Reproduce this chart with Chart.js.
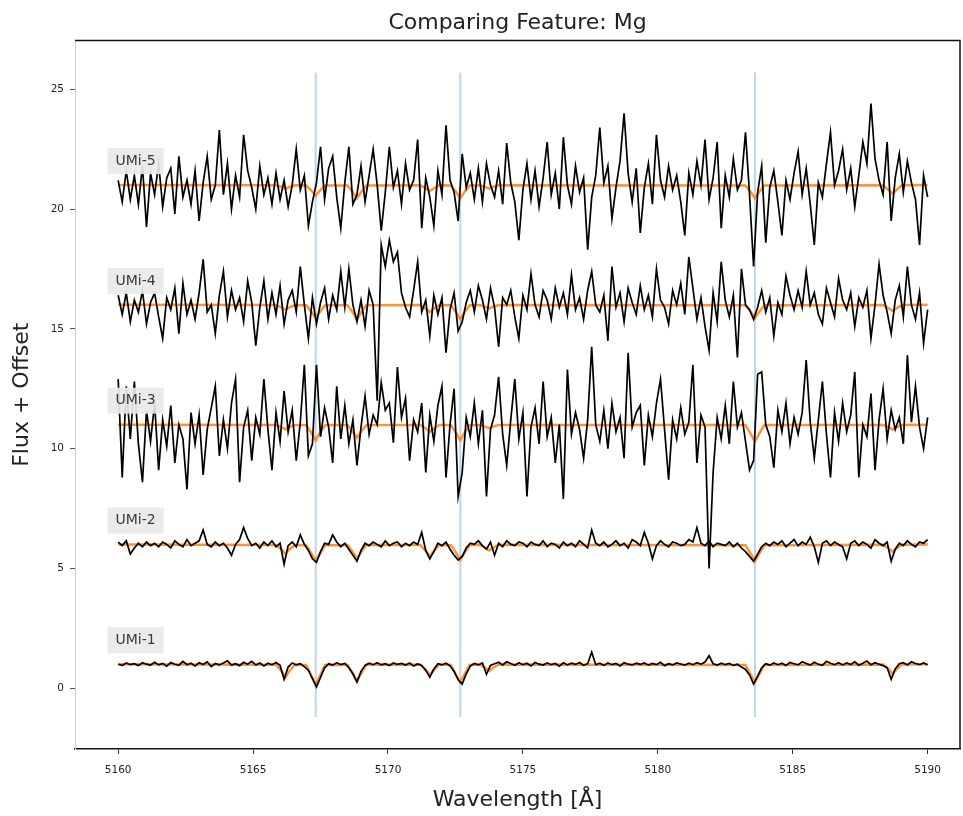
<!DOCTYPE html>
<html>
<head>
<meta charset="utf-8">
<script src="https://cdn.jsdelivr.net/npm/chart.js@4.4.0/dist/chart.umd.min.js"></script>
<style>
  html, body { margin: 0; padding: 0; background: #fff; }
</style>
</head>
<body>
<canvas id="chart" width="963" height="816"></canvas>
<script>
// wavelength grid of the spectra (Angstrom)
const waveStart = 5160;
const waveStep = 0.15;
const waveCount = 201;

const stars = ["UMi-1", "UMi-2", "UMi-3", "UMi-4", "UMi-5"];
const offsets = [0, 5, 10, 15, 20];

// Mg b triplet
const mgLines = [5167.32, 5172.68, 5183.6];
const vlineRange = [-1.2, 25.7];

const xTicks = [5160, 5165, 5170, 5175, 5180, 5185, 5190];
const yTicks = [0, 5, 10, 15, 20, 25];

// normalised flux (offset not included)
const fluxUMi1 = [
  1.0, 0.95, 1.05, 0.98, 1.02, 0.94, 1.06, 1.0, 0.96, 1.08,
  0.97, 1.03, 0.92, 1.07, 1.0, 0.95, 1.12, 0.98, 1.04, 0.93,
  1.06, 0.99, 1.1, 0.9, 1.03, 0.97, 1.05, 1.14, 0.96, 1.02,
  0.94, 1.08, 1.0, 1.12, 0.97, 1.05, 0.93, 1.04, 0.98, 1.07,
  0.95, 0.37, 0.88, 1.05, 0.97, 1.02, 0.9, 0.75, 0.4, 0.05,
  0.45, 0.85, 1.02, 0.96, 1.06, 0.98, 1.03, 0.85, 0.6, 0.25,
  0.7, 0.95, 1.04, 0.98, 1.06, 0.97, 1.02, 0.94, 1.05, 0.99,
  1.03, 0.96, 1.05, 0.92, 1.01, 0.95, 0.75, 0.46, 0.8, 1.02,
  0.97, 1.04, 0.93, 0.7, 0.35, 0.17, 0.6, 0.92, 1.03, 0.97,
  1.05, 0.58, 0.95, 1.02, 1.08, 0.97, 1.1, 1.03, 0.95, 1.06,
  0.98, 1.04, 0.93, 1.07, 1.0, 0.96, 1.05, 0.98, 1.03, 0.92,
  1.06, 0.97, 1.04, 0.99, 1.07, 0.95, 1.02, 1.5, 0.98, 1.04,
  0.95, 1.05, 0.98, 1.03, 0.93, 1.06, 1.0, 0.97, 1.04, 0.99,
  1.05, 0.96, 1.03, 0.98, 1.08, 0.94, 1.02, 0.97, 1.05, 1.01,
  0.96, 1.04, 0.98, 1.06, 1.0, 1.09, 1.35, 1.02, 0.96, 1.04,
  0.98, 1.03, 0.95, 1.0, 0.88, 0.78, 0.55, 0.17, 0.5, 0.85,
  1.02, 0.96, 1.05, 0.98, 1.04, 0.95, 1.07, 1.02, 0.97, 1.1,
  1.03, 0.96, 1.08, 1.0, 0.95, 1.12, 1.04, 0.98, 1.06, 0.97,
  1.05, 0.99, 1.1, 0.96, 1.04, 1.13, 0.98, 1.06, 1.0, 0.94,
  0.85, 0.37, 0.8, 1.02, 1.06, 0.97, 1.1, 1.03, 0.98, 1.05,
  0.98
];
const fluxUMi2 = [
  1.1, 0.95, 1.15, 0.6, 0.85, 1.05, 0.9, 1.1, 0.95, 1.05,
  0.9, 1.1, 1.0, 0.85, 1.15, 1.0, 0.9, 1.2, 0.95, 1.05,
  1.15, 1.6, 1.0, 0.9, 1.1, 0.95, 1.05, 0.85, 0.55, 1.0,
  1.2, 1.7, 1.25, 0.95, 1.05, 0.85, 1.1, 0.95, 1.15, 0.9,
  1.05, 0.17, 0.95, 1.1, 0.9, 1.4, 1.0, 0.75, 0.4, 0.25,
  0.7, 1.05, 1.0, 1.4, 1.1, 0.9, 1.05, 0.8, 0.55, 0.3,
  0.75, 1.05, 0.95, 1.1, 1.0, 0.9, 1.15, 0.95, 1.05, 1.1,
  0.9, 1.05, 0.95, 1.1, 1.0, 1.5, 0.75, 0.4, 0.7, 1.05,
  0.95, 1.1, 0.8, 0.55, 0.35, 0.5, 0.85, 1.05, 1.0, 1.15,
  0.95, 0.8, 1.1, 0.55, 1.05, 0.9, 1.15, 1.0, 0.95, 1.1,
  1.05, 0.9, 1.1, 1.0, 0.95, 1.15, 0.9, 1.05, 1.0, 0.85,
  1.1, 0.95, 1.05, 0.9, 1.15, 1.0, 0.85, 1.6, 1.05, 0.95,
  1.1, 0.9, 1.0, 1.15, 0.95, 1.05, 0.85, 1.2, 1.1, 0.95,
  1.5, 1.05, 0.4, 0.95, 1.15, 1.0, 0.9, 1.1, 1.05, 0.95,
  1.0, 1.2, 1.1, 1.7, 1.05, 0.95, 1.15, 0.9, 1.05, 1.0,
  0.95, 1.1, 0.9, 1.05, 0.85, 0.7, 0.5, 0.3, 0.6, 0.9,
  1.05, 0.95, 1.1, 1.0, 1.15, 0.9, 1.05, 1.2, 0.95, 1.1,
  1.0, 1.3, 0.9, 0.25, 1.05, 1.15, 0.95, 1.1, 1.0, 0.9,
  0.4, 1.05, 1.15, 0.95, 1.1, 1.0, 0.85, 1.2, 1.05, 0.95,
  1.1, 0.3, 0.8, 1.05, 0.95, 1.15, 1.0, 0.9, 1.1, 1.05,
  1.2
];
const fluxUMi3 = [
  2.9, -1.2, 2.6, 0.4, 2.8, 0.2, -1.4, 1.6, 0.3, 1.9,
  -0.9, 1.2, 0.1, 1.8, -0.6, 1.0, 0.4, -1.7, 1.5, 0.2,
  1.4, -1.1, 0.8, 1.7, 2.6, -0.3, 1.2, 0.0, 1.9, 2.9,
  -1.4, 0.9, 1.6, -0.5, 1.3, 0.6, 2.9, 0.8, -0.9, 1.5,
  0.3, 2.4, 0.7, 1.6, -0.5, 1.1, 3.5, -0.3, 0.2, 3.5,
  0.5, 1.7, 0.9, -0.6, 2.6, 0.4, 1.8, 0.2, 1.2, -0.7,
  0.9, 2.2, 0.6, 1.4, 1.0, 2.75, 1.6, 1.9, 0.25, 3.4,
  1.3, 2.1, -0.5, 1.2, 0.7, 1.9, -1.0, 1.4, 0.3, 1.8,
  2.6, -1.2, 1.0, 2.5, -2.0, -1.0, 1.3, 0.5, 1.9, 0.2,
  1.6, -2.0, 0.8, 1.4, 3.0, 0.6, -0.7, 1.2, 2.9, 0.4,
  1.5, -2.0, 0.9, 1.7, 0.2, 2.8, 0.5, 1.3, -0.6, 1.0,
  -2.1, 3.3, 0.6, 1.5, 0.8, -0.4, 1.2, 4.25, 1.0, 0.3,
  1.6, 0.0, 1.9, 0.7, 1.3, -0.4, 4.0, 0.9, 1.5, 1.8,
  -0.7, 1.4, 0.5, 1.9, 2.9, 0.8, -1.3, 1.2, 0.4, 1.7,
  0.6, 1.1, 3.5, -0.6, 1.4, 0.9, -5.0, -1.0, 1.3, 0.4,
  1.8, 0.2, 2.8, 0.9, 1.5, 0.3, -0.9, -0.5, 3.1, 3.2,
  1.0, 0.5, -0.8, 1.6, 0.7, 1.9, 0.2, 1.3, 0.6, 1.5,
  3.7, 1.1, -0.4, 1.2, 2.8, 0.6, -1.2, 1.5, 0.3, 1.9,
  0.7, 1.4, 3.2, -1.2, 1.0, 0.5, 2.3, -0.9, 1.2, 2.5,
  0.4, 1.6, 0.8, 1.3, 0.2, 3.9, 1.1, 2.6, 0.9, 0.0,
  1.3
];
const fluxUMi4 = [
  1.4, 0.6, 1.5, 0.3, 1.2, 0.7, 1.6, 0.2, 1.1, 1.5,
  0.5, -0.4, 1.3, 0.8, 1.7, -0.2, 1.9, 0.6, 1.2, 0.4,
  1.5, 2.9, 0.7, 1.0, -0.2, 1.4, 2.4, 0.5, 1.6, 0.8,
  1.3, 0.3, 2.0, 1.1, -0.7, 0.9, 2.0, 0.4, 1.5, 0.6,
  1.8, 0.2, 1.2, 1.6, 0.7, 2.6, 1.0, -0.4, 1.3, 0.2,
  1.1, 1.7, 0.4, 1.4, 0.8, 2.4, 0.9, 2.5, 1.0, 0.3,
  1.2, 0.1, 1.6, 1.0, -3.0, 3.5, 2.6, 3.7, 2.8, 3.2,
  1.5, 0.9, 0.5, 1.6, 2.8, 0.7, 1.2, -0.3, 1.4, 0.6,
  1.3, -1.0, 0.8, 1.5, -0.1, 0.3, 1.1, 1.6, 0.7, 1.8,
  1.2, 0.4, 1.7, 0.9, -0.75, 1.3, 1.0, 1.6, 0.5, -0.4,
  1.4, 0.8, 2.3, 1.0, 0.5, 1.6, 1.2, 0.4, 1.7, 0.9,
  1.5, 0.6, 2.25, 0.8, 1.3, 0.4, 1.6, 2.4, 1.0, 0.7,
  1.4, -0.5, 2.6, 0.9, 1.5, 0.3, 1.7, 1.1, 0.6, 1.8,
  0.8, 1.4, 0.5, 2.5, 1.2, 0.9, 0.2, 1.6, 1.0, 1.9,
  0.6, 3.0, 1.7, 0.4, 1.3, 0.1, -0.9, 1.5, 0.3, 2.8,
  1.2, 0.5, 1.4, -1.2, 2.5, 1.0, 0.8, 0.4, 0.9, 1.6,
  0.7, 1.3, -0.3, 1.1, 0.6, 2.2, 1.4, 0.8, 1.6, 0.9,
  2.4, 1.0, 1.5, 0.6, 0.2, 1.7, 1.1, 0.5, 2.1, 1.2,
  0.8, 1.5, 0.1, 1.3, 0.9, 1.6, -0.4, 1.0, 2.7, 1.4,
  0.7, -0.2, 1.2, 1.8, 0.5, 2.6, 1.0, 0.4, 1.5, -0.6,
  0.8
];
const fluxUMi5 = [
  1.2, 0.3, 1.6, 0.4, 1.4, 0.2, 1.8, -0.75, 1.5, 0.6,
  1.9, 0.1, 1.3, 1.7, -0.2, 2.2, 0.5, 1.2, 0.2, 1.6,
  -0.5, 1.1, 2.2, 0.4, 1.0, 3.3, 0.6, 1.9, 0.0, 1.4,
  0.5, 3.1, 1.6, 0.9, 0.0, 1.8, 0.6, 1.3, 0.2, 1.5,
  0.4, 1.2, 0.1, 1.0, 2.5, 0.8, 1.4, -0.7, 0.3, 1.1,
  2.6, 0.4, 1.7, 2.2, 0.5, -0.8, 1.1, 2.6, 0.2, 0.6,
  1.8, 0.3, 1.4, 2.5, 1.0, -0.9, 0.7, 2.6, 0.9, 1.6,
  0.2, 1.9, 0.8, 1.2, 2.9, -0.8, 1.3, 0.5, -0.7, 1.6,
  0.6, 3.5, 1.2, 0.7, -0.5, 2.3, 0.9, 1.5, 0.4, 1.7,
  0.3, 1.9, 1.0, 0.5, 1.6, 0.2, 2.75, 1.1, 0.3, -1.3,
  0.8, 1.9, 0.4, 1.6, 0.1, 1.3, 2.8, 0.6, 1.5, 0.0,
  3.0, 1.0, 0.2, 1.8, 0.7, 1.3, -1.7, 0.5, 1.4, 3.4,
  1.1, 1.8, -0.4, 0.9, 2.0, 4.0, 1.5, 0.3, 1.7, -1.0,
  0.9, 1.9, 0.2, 3.1, 1.2, 0.5, 1.8, 0.8, 1.4, 0.3,
  -1.1, 1.5, 0.6, 2.0, 1.0, 2.9, 0.4, 1.3, 2.8, -0.8,
  1.4, 0.5, 2.1, 0.8, 1.2, 3.2, 0.6, -2.4, 0.7, 1.8,
  -1.4, 0.9, 1.6, 0.3, -1.1, 1.2, 0.4, 1.5, 2.4, 0.6,
  1.7, 0.2, -1.5, 1.1, 0.5, 1.9, 3.2, 1.0, 1.6, 2.5,
  0.8, 1.7, 0.1, 1.4, 2.8, 1.9, 4.4, 2.1, 1.2, 0.6,
  2.8, -0.5, 1.3, 2.3, 0.7, 2.0, 1.1, 0.4, -1.5, 1.4,
  0.5
];

// model spectra (orange), given at knots
const modelWave = [
  5160,
  5165.85, 5166.05, 5166.2, 5166.35, 5166.55,
  5166.97, 5167.17, 5167.32, 5167.47, 5167.67,
  5168.5, 5168.7, 5168.85, 5169.0, 5169.2,
  5171.2, 5171.4, 5171.55, 5171.7, 5171.9,
  5172.33, 5172.53, 5172.68, 5172.83, 5173.03,
  5173.4, 5173.6, 5173.75, 5173.9, 5174.1,
  5183.25, 5183.45, 5183.6, 5183.75, 5183.95,
  5188.35, 5188.55, 5188.7, 5188.85, 5189.05,
  5190
];
const modelUMi1 = [
  1,
  0.98, 0.72, 0.45, 0.72, 0.98,
  0.97, 0.5, 0.15, 0.5, 0.97,
  0.98, 0.6, 0.3, 0.6, 0.98,
  0.99, 0.75, 0.55, 0.75, 0.99,
  0.97, 0.55, 0.25, 0.55, 0.97,
  0.99, 0.85, 0.72, 0.85, 0.99,
  0.97, 0.55, 0.25, 0.55, 0.97,
  0.99, 0.8, 0.6, 0.8, 0.99,
  1
];
const modelUMi2 = [
  1,
  0.98, 0.8, 0.6, 0.8, 0.98,
  0.97, 0.6, 0.3, 0.6, 0.97,
  0.98, 0.68, 0.4, 0.68, 0.98,
  0.98, 0.72, 0.5, 0.72, 0.98,
  0.97, 0.64, 0.35, 0.64, 0.97,
  0.99, 0.86, 0.75, 0.86, 0.99,
  0.97, 0.6, 0.3, 0.6, 0.97,
  0.99, 0.84, 0.7, 0.84, 0.99,
  1
];
const modelUMi3 = [
  1,
  0.99, 0.9, 0.8, 0.9, 0.99,
  0.98, 0.64, 0.35, 0.64, 0.98,
  0.98, 0.7, 0.45, 0.7, 0.98,
  0.99, 0.84, 0.7, 0.84, 0.99,
  0.98, 0.64, 0.35, 0.64, 0.98,
  0.99, 0.92, 0.85, 0.92, 0.99,
  0.98, 0.6, 0.3, 0.6, 0.98,
  0.99, 0.9, 0.8, 0.9, 0.99,
  1
];
const modelUMi4 = [
  1,
  0.99, 0.9, 0.8, 0.9, 0.99,
  0.98, 0.7, 0.45, 0.7, 0.98,
  0.98, 0.68, 0.4, 0.68, 0.98,
  0.99, 0.84, 0.7, 0.84, 0.99,
  0.98, 0.68, 0.4, 0.68, 0.98,
  0.99, 0.92, 0.85, 0.92, 0.99,
  0.98, 0.7, 0.45, 0.7, 0.98,
  0.99, 0.86, 0.75, 0.86, 0.99,
  1
];
const modelUMi5 = [
  1,
  0.99, 0.92, 0.85, 0.92, 0.99,
  0.98, 0.76, 0.55, 0.76, 0.98,
  0.98, 0.7, 0.45, 0.7, 0.98,
  0.99, 0.86, 0.75, 0.86, 0.99,
  0.98, 0.7, 0.45, 0.7, 0.98,
  0.99, 0.92, 0.85, 0.92, 0.99,
  0.98, 0.7, 0.45, 0.7, 0.98,
  0.99, 0.8, 0.65, 0.8, 0.99,
  1
];

// star name label position: x in Angstrom, y above the offset
const labelX = 5159.9;
const labelRise = 2.0;

const fluxes = [fluxUMi1, fluxUMi2, fluxUMi3, fluxUMi4, fluxUMi5];
const models = [modelUMi1, modelUMi2, modelUMi3, modelUMi4, modelUMi5];

const FONT = '"DejaVu Sans", sans-serif';
const wave = [];
for (let i = 0; i < waveCount; i++) wave.push(+(waveStart + waveStep * i).toFixed(2));

// order: lower number is drawn on top (spectra > models > Mg lines)
const datasets = [];
stars.forEach((name, k) => {
  datasets.push({
    label: name,
    data: wave.map((w, i) => ({ x: w, y: fluxes[k][i] + offsets[k] })),
    borderColor: "#000",
    borderWidth: 1.7,
    pointRadius: 0,
    order: 0,
  });
  datasets.push({
    label: name + " model",
    data: modelWave.map((w, i) => ({ x: w, y: models[k][i] + offsets[k] })),
    borderColor: "rgba(255,127,14,0.85)",
    borderWidth: 2.5,
    pointRadius: 0,
    order: 1,
  });
});
mgLines.forEach((w) => {
  datasets.push({
    label: "Mg " + w,
    data: [{ x: w, y: vlineRange[0] }, { x: w, y: vlineRange[1] }],
    borderColor: "#bcd6e9",
    borderWidth: 2,
    pointRadius: 0,
    order: 2,
  });
});

// grey name boxes and the top/right frame
const extras = {
  id: "extras",
  afterDatasetsDraw(chart) {
    const { ctx, chartArea, scales: { x, y } } = chart;
    ctx.save();
    ctx.font = "14px " + FONT;
    ctx.textBaseline = "middle";
    stars.forEach((name, k) => {
      const px = x.getPixelForValue(labelX);
      const py = y.getPixelForValue(offsets[k] + labelRise);
      const w = ctx.measureText(name).width;
      ctx.fillStyle = "rgba(233,233,233,0.92)";
      ctx.fillRect(px - 8, py - 13, w + 16, 26);
      ctx.fillStyle = "#3a3a3a";
      ctx.fillText(name, px, py);
    });
    ctx.strokeStyle = "#111";
    ctx.lineWidth = 1.5;
    ctx.beginPath();
    ctx.moveTo(chartArea.left, chartArea.top);
    ctx.lineTo(chartArea.right, chartArea.top);
    ctx.lineTo(chartArea.right, chartArea.bottom);
    ctx.stroke();
    ctx.restore();
  },
};

new Chart(document.getElementById("chart"), {
  type: "line",
  data: { datasets },
  options: {
    responsive: false,
    animation: false,
    devicePixelRatio: 1,
    layout: { padding: { left: 0, right: 3, top: 0, bottom: 0 } },
    plugins: {
      legend: { display: false },
      tooltip: { enabled: false },
      title: {
        display: true,
        text: "Comparing Feature: Mg",
        fullSize: false,
        color: "#222",
        font: { family: FONT, size: 22, weight: "normal" },
        padding: { top: 10, bottom: 4 },
      },
    },
    scales: {
      x: {
        type: "linear",
        min: 5158.4,
        max: 5191.2,
        afterFit: (s) => { s.height = 67; },
        afterBuildTicks: (s) => { s.ticks = xTicks.map((v) => ({ value: v })); },
        ticks: {
          color: "#222",
          font: { family: FONT, size: 10.5 },
          padding: 10,
          maxRotation: 0,
          callback: (v) => String(v),
        },
        grid: { display: true, drawOnChartArea: false, drawTicks: true, tickLength: 5, tickColor: "#333" },
        border: { display: true, color: "#111", width: 1.5 },
        title: {
          display: true,
          text: "Wavelength [Å]",
          color: "#222",
          font: { family: FONT, size: 22 },
          padding: { top: 4, bottom: 3 },
        },
      },
      y: {
        type: "linear",
        min: -2.54,
        max: 27.04,
        afterFit: (s) => { s.width = 75; },
        afterBuildTicks: (s) => { s.ticks = yTicks.map((v) => ({ value: v })); },
        ticks: {
          color: "#222",
          font: { family: FONT, size: 10.5 },
          padding: 6,
          callback: (v) => String(v),
        },
        grid: { display: true, drawOnChartArea: false, drawTicks: true, tickLength: 5, tickColor: "#555" },
        border: { display: true, color: "#cfcfcf", width: 1 },
        title: {
          display: true,
          text: "Flux + Offset",
          color: "#222",
          font: { family: FONT, size: 22 },
          padding: { top: 9, bottom: 4 },
        },
      },
    },
  },
  plugins: [extras],
});
</script>
</body>
</html>
